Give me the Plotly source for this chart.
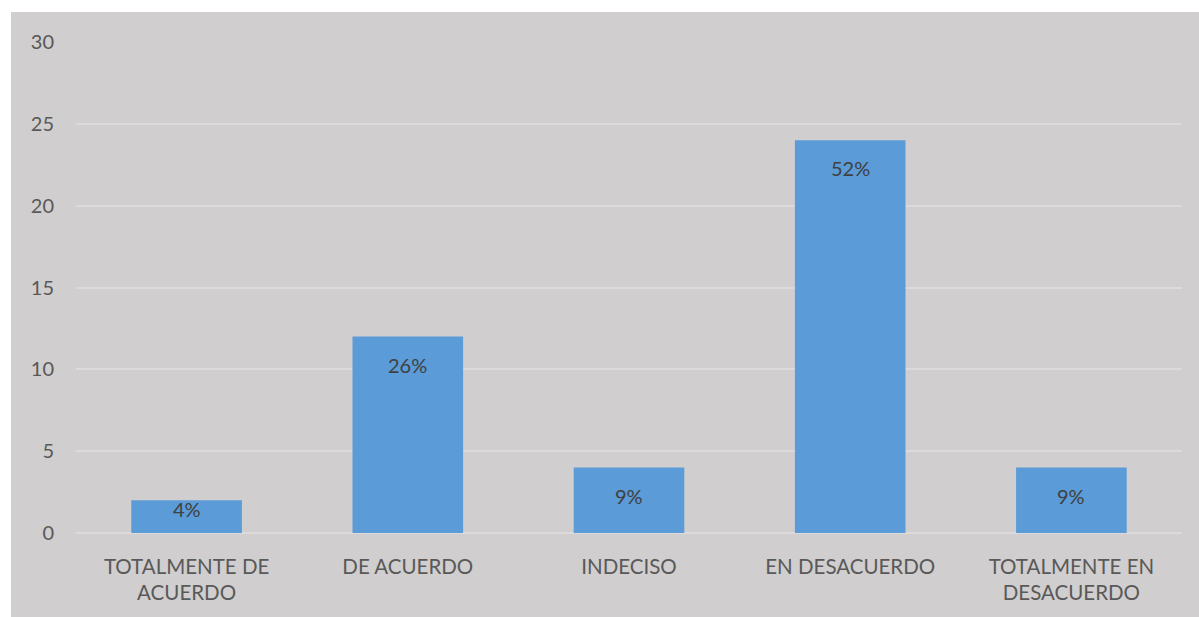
import plotly.graph_objects as go

categories = ["TOTALMENTE DE<br>ACUERDO", "DE ACUERDO", "INDECISO", "EN DESACUERDO", "TOTALMENTE EN<br>DESACUERDO"]
values = [2, 12, 4, 24, 4]
labels = ["4%", "26%", "9%", "52%", "9%"]

GRAY = "#d0cece"
TXT = "#595959"
Y_MAX = 30
PLOT_H = 617 - 42 - 84
PX_PER_UNIT = PLOT_H / Y_MAX

fig = go.Figure(go.Bar(
    x=categories, y=values,
    marker=dict(color="#5a9bd8", line=dict(width=0)),
    width=0.5,
))

annotations = [
    dict(x=c, y=v, text=t, showarrow=False, xref="x", yref="y",
         yanchor="middle", yshift=-min(28, v * PX_PER_UNIT - 24),
         font=dict(family="Lato", size=20, color="#404040"))
    for c, v, t in zip(categories, values, labels)
]

fig.update_layout(
    width=1199, height=617,
    margin=dict(l=76, r=17, t=42, b=84),
    paper_bgcolor=GRAY, plot_bgcolor=GRAY,
    font=dict(family="Lato", size=20, color=TXT),
    showlegend=False,
    annotations=annotations,
    shapes=[
        dict(type="rect", xref="paper", yref="paper", x0=-0.1, x1=1.1, y0=1.0611, y1=1.2,
             fillcolor="white", line=dict(width=0), layer="below"),
        dict(type="rect", xref="paper", yref="paper", x0=-0.1, x1=-0.0588, y0=-0.3, y1=1.2,
             fillcolor="white", line=dict(width=0), layer="below"),
    ],
)
fig.update_xaxes(showgrid=False, showline=False, ticks="", ticklabelstandoff=19,
                 tickfont=dict(size=20.5, color=TXT))
fig.update_yaxes(range=[0, Y_MAX], dtick=5, showgrid=True, gridcolor="#dcdada", gridwidth=2,
                 zeroline=True, zerolinecolor="#dcdada", zerolinewidth=2,
                 showline=False, ticks="", ticklabelstandoff=21,
                 tickfont=dict(size=20, color=TXT))

fig.write_html("out.html")
